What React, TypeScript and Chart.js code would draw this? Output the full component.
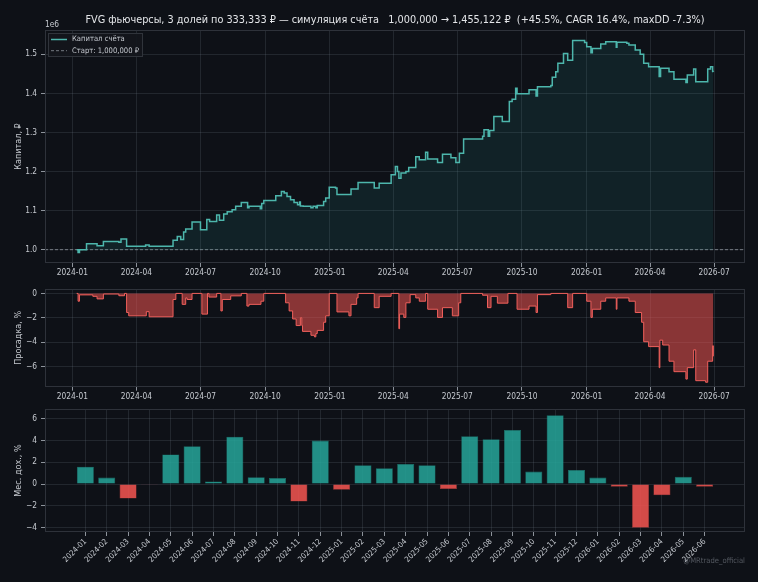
import React, { useEffect, useRef } from 'react';
import { Chart, registerables } from 'chart.js';

Chart.register(...registerables);

// ---------------- data ----------------
const TITLE =
  'FVG фьючерсы, 3 долей по 333,333 ₽ — симуляция счёта   1,000,000 → 1,455,122 ₽  (+45.5%, CAGR 16.4%, maxDD -7.3%)';

const START_CAPITAL = 1000000;

const EQUITY_DATES = [
  '2024-01-07', '2024-01-09', '2024-01-11', '2024-01-21', '2024-02-05', '2024-02-14', '2024-03-07', '2024-03-10',
  '2024-03-18', '2024-04-14', '2024-04-19', '2024-05-23', '2024-05-29', '2024-06-03', '2024-06-07', '2024-06-10',
  '2024-06-19', '2024-07-01', '2024-07-10', '2024-07-14', '2024-07-24', '2024-07-28', '2024-08-03', '2024-08-08',
  '2024-08-15', '2024-08-20', '2024-08-28', '2024-09-06', '2024-09-08', '2024-09-24', '2024-09-26', '2024-09-29',
  '2024-10-16', '2024-10-24', '2024-10-28', '2024-11-01', '2024-11-06', '2024-11-11', '2024-11-16', '2024-11-19',
  '2024-11-20', '2024-11-24', '2024-12-05', '2024-12-08', '2024-12-12', '2024-12-14', '2024-12-23', '2024-12-26',
  '2024-12-31', '2025-01-09', '2025-01-11', '2025-01-31', '2025-02-10', '2025-03-05', '2025-03-12', '2025-03-29',
  '2025-04-04', '2025-04-07', '2025-04-09', '2025-04-12', '2025-04-19', '2025-04-23', '2025-05-03', '2025-05-08',
  '2025-05-17', '2025-05-20', '2025-06-03', '2025-06-10', '2025-06-22', '2025-06-29', '2025-07-04', '2025-07-10',
  '2025-08-06', '2025-08-08', '2025-08-14', '2025-08-16', '2025-08-22', '2025-09-03', '2025-09-13', '2025-09-17',
  '2025-09-22', '2025-09-24', '2025-10-11', '2025-10-21', '2025-10-23', '2025-11-11', '2025-11-13', '2025-11-18',
  '2025-11-21', '2025-11-29', '2025-12-05', '2025-12-12', '2025-12-29', '2026-01-01', '2026-01-07', '2026-01-09',
  '2026-01-21', '2026-01-28', '2026-02-12', '2026-02-13', '2026-02-27', '2026-03-02', '2026-03-11', '2026-03-18',
  '2026-03-23', '2026-03-30', '2026-04-14', '2026-04-16', '2026-04-28', '2026-05-05', '2026-05-22', '2026-05-24',
  '2026-06-02', '2026-06-05', '2026-06-22', '2026-06-26', '2026-06-29', '2026-06-30',
];

const EQUITY_VALUES = [
  1000000, 993000, 1000000, 1015000, 1010000, 1021000, 1019000, 1027000,
  1008500, 1012000, 1008500, 1024000, 1034000, 1026000, 1045000, 1053000,
  1071000, 1051000, 1077000, 1072000, 1089000, 1075000, 1091000, 1097000,
  1102000, 1111000, 1121000, 1107000, 1111000, 1105000, 1118000, 1126000,
  1138000, 1149000, 1145000, 1136000, 1128000, 1121000, 1115000, 1122000,
  1112000, 1111000, 1107000, 1111000, 1107000, 1113000, 1123000, 1132000,
  1160000, 1158000, 1141000, 1155000, 1172000, 1158000, 1170000, 1192000,
  1213000, 1200000, 1183000, 1196000, 1200000, 1210000, 1238000, 1230000,
  1249000, 1232000, 1223000, 1244000, 1235000, 1223000, 1247000, 1283000,
  1290000, 1307000, 1290000, 1305000, 1341000, 1328000, 1379000, 1385000,
  1413000, 1399000, 1409000, 1393000, 1417000, 1420000, 1441000, 1455000,
  1477000, 1502000, 1485000, 1535000, 1530000, 1519000, 1504000, 1515000,
  1526000, 1532000, 1518000, 1531000, 1528000, 1524000, 1511000, 1500000,
  1477000, 1468000, 1443000, 1464000, 1455000, 1436000, 1428000, 1447000,
  1462000, 1430000, 1462000, 1468000, 1456000, 1455000,
];

const DRAWDOWN_DATES = [
  '2024-01-07', '2024-01-09', '2024-01-11', '2024-01-30', '2024-02-05', '2024-02-14', '2024-03-07', '2024-03-15',
  '2024-03-18', '2024-03-21', '2024-04-15', '2024-04-19', '2024-05-23', '2024-05-27', '2024-06-05', '2024-06-10',
  '2024-06-12', '2024-06-19', '2024-07-03', '2024-07-11', '2024-07-13', '2024-07-24', '2024-07-30', '2024-08-01',
  '2024-08-13', '2024-08-28', '2024-09-05', '2024-09-08', '2024-09-25', '2024-09-29', '2024-10-30', '2024-11-04',
  '2024-11-09', '2024-11-14', '2024-11-20', '2024-11-22', '2024-11-23', '2024-12-05', '2024-12-10', '2024-12-12',
  '2024-12-14', '2024-12-23', '2024-12-26', '2024-12-31', '2025-01-11', '2025-01-28', '2025-01-31', '2025-02-08',
  '2025-02-10', '2025-03-05', '2025-03-12', '2025-03-29', '2025-04-09', '2025-04-10', '2025-04-16', '2025-04-19',
  '2025-04-25', '2025-05-03', '2025-05-08', '2025-05-17', '2025-05-20', '2025-06-03', '2025-06-10', '2025-06-24',
  '2025-07-03', '2025-07-06', '2025-08-06', '2025-08-13', '2025-08-18', '2025-08-27', '2025-09-11', '2025-09-24',
  '2025-10-11', '2025-10-21', '2025-10-23', '2025-11-11', '2025-12-05', '2025-12-12', '2026-01-01', '2026-01-07',
  '2026-01-09', '2026-01-21', '2026-01-28', '2026-02-12', '2026-02-13', '2026-03-02', '2026-03-11', '2026-03-20',
  '2026-03-23', '2026-03-30', '2026-04-14', '2026-04-15', '2026-04-19', '2026-04-28', '2026-05-05', '2026-05-22',
  '2026-05-24', '2026-06-02', '2026-06-05', '2026-06-19', '2026-06-22', '2026-06-29', '2026-06-30',
];

const DRAWDOWN_VALUES = [
  0, -0.64, -0.12, -0.24, -0.45, -0.05, -0.19, 0,
  -1.57, -1.84, -1.5, -1.92, -0.5, 0, -0.9, -0.37,
  -0.5, 0, -1.7, 0, -0.3, 0, -1.44, -0.5,
  -0.2, 0, -1.04, -0.9, -0.64, 0, -0.77, -1.44,
  -2.1, -2.64, -2.0, -2.64, -3.12, -3.44, -3.57, -3.3,
  -3.04, -2.37, -1.84, 0, -1.52, -1.84, -0.9, -0.37,
  0, -1.17, -0.24, 0, -2.9, -1.7, -1.97, -0.77,
  -0.1, -0.37, -0.64, 0, -1.3, -1.97, -1.17, -1.84,
  -0.77, 0, -0.15, -1.17, -0.24, -0.8, 0, -1.3,
  -1.04, -1.57, -0.1, 0, -1.17, 0, -0.64, -1.97,
  -1.3, -0.64, -0.37, -1.3, -0.37, -0.64, -1.57, -2.37,
  -3.97, -4.37, -6.1, -3.84, -4.24, -5.57, -6.43, -7.04,
  -6.1, -4.64, -7.17, -7.3, -5.57, -4.3, -5.17,
];

const MONTHS = [
  '2024-01', '2024-02', '2024-03', '2024-04', '2024-05', '2024-06', '2024-07', '2024-08', '2024-09', '2024-10',
  '2024-11', '2024-12', '2025-01', '2025-02', '2025-03', '2025-04', '2025-05', '2025-06', '2025-07', '2025-08',
  '2025-09', '2025-10', '2025-11', '2025-12', '2026-01', '2026-02', '2026-03', '2026-04', '2026-05', '2026-06',
];

const MONTHLY_RETURNS = [
  1.6, 0.6, -1.33, -0.06, 2.73, 3.48, 0.24, 4.36, 0.64, 0.55,
  -1.6, 4.0, -0.52, 1.73, 1.45, 1.85, 1.73, -0.45, 4.39, 4.12,
  4.97, 1.15, 6.33, 1.3, 0.6, -0.24, -4.0, -1.03, 0.67, -0.24,
];

const DATE_TICKS = [
  '2024-01-01', '2024-04-01', '2024-07-01', '2024-10-01', '2025-01-01', '2025-04-01',
  '2025-07-01', '2025-10-01', '2026-01-01', '2026-04-01', '2026-07-01',
];
const EQUITY_TICKS = [1000000, 1100000, 1200000, 1300000, 1400000, 1500000];
const DRAWDOWN_TICKS = [0, -2, -4, -6];
const RETURN_TICKS = [-4, -2, 0, 2, 4, 6];

const X_LIMITS = ['2023-11-23', '2026-08-14'];
const EQUITY_Y_LIMITS = [965900, 1562100];
const DRAWDOWN_Y_LIMITS = [-7.665, 0.365];
const RETURN_Y_LIMITS = [-4.4, 6.9];
const MONTH_X_LIMITS = [-1.89, 30.89];

// ---------------- styles ----------------
const BG = '#0e1117';
const GRID = 'rgba(110,118,130,0.22)';
const FRAME = '#2e323a';
const TICK_MARK = '#8d939b';
const TEXT = '#c5c9cf';
const TITLE_COLOR = '#e4e6e9';
const TEAL = '#4db6ac';
const RED = '#ef5350';
const FONT = "'DejaVu Sans Condensed', 'DejaVu Sans', sans-serif";

const BASE = Date.parse('2024-01-01');
const toDay = (s: string) => (Date.parse(s) - BASE) / 86400000;
const minus = (v: number) => (v < 0 ? '\u2212' + Math.abs(v) : String(v));

const framePlugin = {
  id: 'frame',
  afterDraw(chart: any) {
    const { ctx, chartArea: a } = chart;
    ctx.save();
    ctx.strokeStyle = FRAME;
    ctx.lineWidth = 1;
    ctx.strokeRect(Math.round(a.left) + 0.5, Math.round(a.top) + 0.5, Math.round(a.right - a.left) - 1, Math.round(a.bottom - a.top) - 1);
    ctx.restore();
  },
};

function dateAxis(height: number) {
  return {
    type: 'linear' as const,
    min: toDay(X_LIMITS[0]),
    max: toDay(X_LIMITS[1]),
    afterBuildTicks: (s: any) => {
      s.ticks = DATE_TICKS.map((t) => ({ value: toDay(t) }));
    },
    afterFit: (s: any) => {
      s.height = height;
    },
    ticks: {
      autoSkip: false,
      maxRotation: 0,
      padding: 1,
      color: TEXT,
      font: { family: FONT, size: 8.3 },
      callback: (_v: any, i: number) => DATE_TICKS[i].slice(0, 7),
    },
    grid: { color: GRID, tickColor: TICK_MARK, tickLength: 4 },
    border: { display: false },
  };
}

function valueAxis(limits: number[], ticks: number[], title: string, fmt: (v: number) => string) {
  return {
    min: limits[0],
    max: limits[1],
    afterBuildTicks: (s: any) => {
      s.ticks = ticks.map((v) => ({ value: v }));
    },
    afterFit: (s: any) => {
      s.width = 45;
    },
    ticks: { padding: 4, color: TEXT, font: { family: FONT, size: 8.3 }, callback: (v: any) => fmt(Number(v)) },
    grid: { color: GRID, tickColor: TICK_MARK, tickLength: 4 },
    border: { display: false },
    title: { display: true, text: title, color: TEXT, font: { family: FONT, size: 9 }, padding: { top: 13, bottom: 0 } },
  };
}

function buildEquity(canvas: HTMLCanvasElement) {
  const textPlugin = {
    id: 'equityText',
    afterDraw(chart: any) {
      const { ctx, chartArea: a } = chart;
      ctx.save();
      ctx.fillStyle = TITLE_COLOR;
      ctx.font = `10.8px ${FONT}`;
      ctx.textAlign = 'center';
      ctx.textBaseline = 'middle';
      ctx.fillText(TITLE, (a.left + a.right) / 2, 20);
      ctx.fillStyle = TEXT;
      ctx.font = `8.3px ${FONT}`;
      ctx.textAlign = 'left';
      ctx.textBaseline = 'bottom';
      ctx.fillText('1e6', a.left, a.top - 1);
      // legend
      const bx = a.left + 3, by = a.top + 3, bw = 95, bh = 24;
      ctx.fillStyle = 'rgba(19,22,28,0.92)';
      ctx.strokeStyle = '#30343b';
      ctx.lineWidth = 1;
      ctx.fillRect(bx, by, bw, bh);
      ctx.strokeRect(bx + 0.5, by + 0.5, bw - 1, bh - 1);
      ctx.font = `7.6px ${FONT}`;
      ctx.textBaseline = 'middle';
      chart.data.datasets.forEach((ds: any, i: number) => {
        const y = by + 6.5 + i * 11.2;
        ctx.strokeStyle = ds.borderColor;
        ctx.lineWidth = ds.borderWidth;
        ctx.setLineDash(ds.borderDash || []);
        ctx.beginPath();
        ctx.moveTo(bx + 3, y);
        ctx.lineTo(bx + 19, y);
        ctx.stroke();
        ctx.setLineDash([]);
        ctx.fillStyle = TEXT;
        ctx.fillText(ds.label, bx + 24, y);
      });
      ctx.restore();
    },
  };
  return new Chart(canvas, {
    type: 'line',
    data: {
      datasets: [
        {
          label: 'Капитал счёта',
          data: EQUITY_DATES.map((d, i) => ({ x: toDay(d), y: EQUITY_VALUES[i] })),
          borderColor: TEAL,
          borderWidth: 1.5,
          stepped: 'before',
          pointRadius: 0,
          fill: { value: START_CAPITAL },
          backgroundColor: 'rgba(38,166,154,0.12)',
        },
        {
          label: 'Старт: 1,000,000 ₽',
          data: [
            { x: toDay(X_LIMITS[0]), y: START_CAPITAL },
            { x: toDay(X_LIMITS[1]), y: START_CAPITAL },
          ],
          borderColor: '#8e949c',
          borderWidth: 0.8,
          borderDash: [3, 2],
          pointRadius: 0,
          fill: false,
        },
      ],
    } as any,
    options: {
      animation: false,
      responsive: false,
      layout: { padding: { top: 30, right: 13, left: 0, bottom: 0 } },
      plugins: { legend: { display: false }, tooltip: { enabled: false } },
      scales: {
        x: dateAxis(17),
        y: valueAxis(EQUITY_Y_LIMITS, EQUITY_TICKS, 'Капитал, ₽', (v) => (v / 1e6).toFixed(1)),
      } as any,
    },
    plugins: [framePlugin, textPlugin],
  });
}

function buildDrawdown(canvas: HTMLCanvasElement) {
  const x = dateAxis(13.3) as any;
  const y = valueAxis(DRAWDOWN_Y_LIMITS, DRAWDOWN_TICKS, 'Просадка, %', minus) as any;
  x.z = 1;
  y.z = 1;
  return new Chart(canvas, {
    type: 'line',
    data: {
      datasets: [
        {
          label: 'Просадка',
          data: DRAWDOWN_DATES.map((d, i) => ({ x: toDay(d), y: DRAWDOWN_VALUES[i] })),
          borderColor: '#f0605c',
          borderWidth: 1,
          stepped: 'before',
          pointRadius: 0,
          fill: 'origin',
          backgroundColor: 'rgba(239,83,80,0.55)',
        },
      ],
    } as any,
    options: {
      animation: false,
      responsive: false,
      layout: { padding: { top: 5, right: 13, left: 0, bottom: 0 } },
      plugins: { legend: { display: false }, tooltip: { enabled: false } },
      scales: { x, y },
    },
    plugins: [framePlugin],
  });
}

function buildReturns(canvas: HTMLCanvasElement) {
  const watermark = {
    id: 'watermark',
    afterDraw(chart: any) {
      const { ctx, chartArea: a } = chart;
      ctx.save();
      ctx.fillStyle = 'rgba(150,156,166,0.5)';
      ctx.font = `7.6px ${FONT}`;
      ctx.textAlign = 'right';
      ctx.textBaseline = 'middle';
      ctx.fillText('@MRtrade_official', a.right, a.bottom + 29);
      ctx.restore();
    },
  };
  const y = valueAxis(RETURN_Y_LIMITS, RETURN_TICKS, 'Мес. дох., %', minus) as any;
  y.z = 1;
  return new Chart(canvas, {
    type: 'bar',
    data: {
      datasets: [
        {
          label: 'Мес. доходность',
          data: MONTHLY_RETURNS.map((v, i) => ({ x: i, y: v })),
          backgroundColor: MONTHLY_RETURNS.map((v) => (v >= 0 ? 'rgba(38,166,154,0.85)' : 'rgba(239,83,80,0.88)')),
          borderColor: MONTHLY_RETURNS.map((v) => (v >= 0 ? 'rgba(30,120,112,0.9)' : 'rgba(170,60,58,0.9)')),
          borderWidth: 0.6,
          barPercentage: 0.8,
          categoryPercentage: 1,
        },
      ],
    } as any,
    options: {
      animation: false,
      responsive: false,
      layout: { padding: { top: 8.3, right: 13, left: 0, bottom: 0 } },
      plugins: { legend: { display: false }, tooltip: { enabled: false } },
      scales: {
        x: {
          type: 'linear',
          offset: false,
          min: MONTH_X_LIMITS[0],
          max: MONTH_X_LIMITS[1],
          z: 1,
          afterBuildTicks: (s: any) => {
            s.ticks = MONTHS.map((_m, i) => ({ value: i }));
          },
          afterFit: (s: any) => {
            s.height = 50;
          },
          ticks: {
            autoSkip: false,
            minRotation: 45,
            maxRotation: 45,
            padding: 1,
            color: TEXT,
            font: { family: FONT, size: 7.8 },
            callback: (_v: any, i: number) => MONTHS[i],
          },
          grid: { color: GRID, tickColor: TICK_MARK, tickLength: 4, offset: false },
          border: { display: false },
        },
        y,
      } as any,
    },
    plugins: [framePlugin, watermark],
  });
}

export default function App() {
  const r1 = useRef<HTMLCanvasElement>(null);
  const r2 = useRef<HTMLCanvasElement>(null);
  const r3 = useRef<HTMLCanvasElement>(null);

  useEffect(() => {
    document.body.style.margin = '0';
    document.body.style.background = BG;
    const charts = [buildEquity(r1.current!), buildDrawdown(r2.current!), buildReturns(r3.current!)];
    return () => charts.forEach((c) => c.destroy());
  }, []);

  return (
    <div style={{ position: 'relative', width: 758, height: 582, background: BG, overflow: 'hidden' }}>
      <canvas ref={r1} width={758} height={280} style={{ position: 'absolute', left: 0, top: 0 }} />
      <canvas ref={r2} width={758} height={120} style={{ position: 'absolute', left: 0, top: 280 }} />
      <canvas ref={r3} width={758} height={182} style={{ position: 'absolute', left: 0, top: 400 }} />
    </div>
  );
}
